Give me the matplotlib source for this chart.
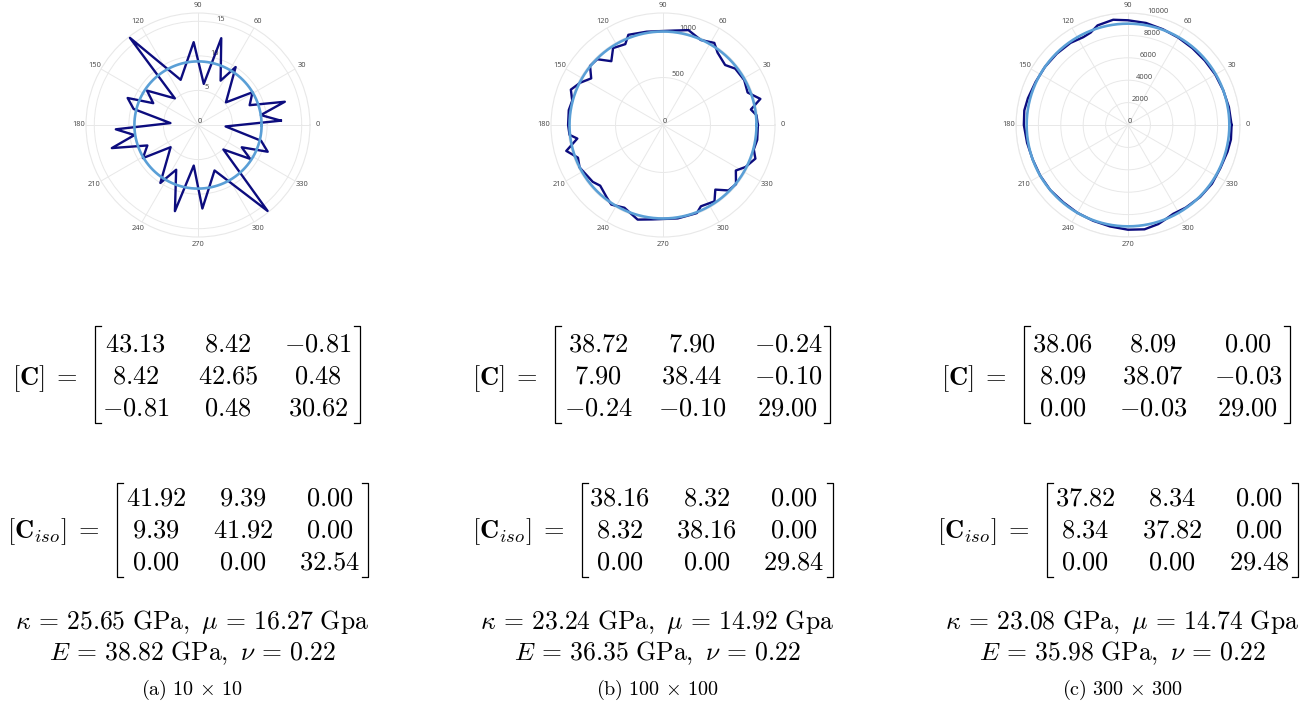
import numpy as np
import matplotlib.pyplot as plt
from matplotlib.lines import Line2D

plt.rcParams['mathtext.fontset'] = 'cm'

W, H = 1313, 704

# ---- polar data (angle in degrees, radius) ----
theta_a = [3, 9, 15, 21, 31, 39, 57, 63, 75, 82, 93, 111, 128, 131, 146, 154, 159, 166, 176,
           183, 189, 195, 202, 211, 219, 237, 244, 255, 264, 273, 290, 309, 316, 327, 333, 339, 346, 357]
r_a = [12.0, 9.2, 13.0, 8.0, 9.2, 5.2, 10.0, 7.2, 13.0, 6.0, 12.0, 7.0, 16.0, 5.1, 8.9, 7.2, 10.9, 9.6, 4.0,
       11.9, 9.3, 12.9, 7.9, 9.3, 5.1, 10.0, 7.2, 12.9, 5.9, 12.1, 7.0, 16.0, 5.1, 9.0, 7.1, 10.8, 9.4, 4.0]
iso_a = 9.2

theta_b = [0, 6, 10, 15, 21, 29, 38, 44, 53, 58, 66, 75, 84, 100, 111, 115, 123, 129, 135, 141, 147, 153,
           159, 165, 171, 180, 186, 189, 195, 201, 207, 219, 224, 232, 237, 245, 255, 264, 279, 291, 295,
           304, 309, 315, 321, 328, 333, 340, 345, 351]
r_b = [1000, 990, 940, 1062, 955, 978, 965, 910, 955, 1020, 980, 1035, 1000, 998, 1018, 940, 966, 865, 980,
       989, 902, 980, 1040, 990, 1005, 1000, 990, 914, 1055, 960, 986, 952, 920, 965, 1000, 962, 1032, 1000,
       996, 994, 945, 970, 876, 975, 990, 905, 975, 1036, 990, 1005]
iso_b = 985

theta_c = [0, 10, 20, 30, 40, 50, 60, 70, 80, 90, 98, 107, 112, 117, 125, 135, 145, 155, 165, 172, 180,
           190, 200, 210, 220, 230, 240, 250, 260, 270, 279, 287, 292, 297, 305, 315, 325, 335, 345, 352]
r_c = [9250, 9150, 9050, 9000, 8950, 8950, 9000, 9100, 9250, 9350, 9490, 9300, 8900, 8800, 8950, 9000,
       9050, 9100, 9250, 9350, 9300, 9150, 9050, 9050, 9050, 9000, 9050, 9100, 9200, 9350, 9430, 9250,
       9050, 8900, 9000, 9100, 9150, 9100, 9200, 9280]
iso_c = 9050

rticks = [[0, 5, 10, 15], [0, 500, 1000], [0, 2000, 4000, 6000, 8000, 10000]]
rmax = [16.2, 1180, 10000]
theta_ticks = list(range(0, 360, 30))

# ---- text data ----
C_mats = [
    [[43.13, 8.42, -0.81], [8.42, 42.65, 0.48], [-0.81, 0.48, 30.62]],
    [[38.72, 7.90, -0.24], [7.90, 38.44, -0.10], [-0.24, -0.10, 29.00]],
    [[38.06, 8.09, 0.00], [8.09, 38.07, -0.03], [0.00, -0.03, 29.00]],
]
Ciso_mats = [
    [[41.92, 9.39, 0.00], [9.39, 41.92, 0.00], [0.00, 0.00, 32.54]],
    [[38.16, 8.32, 0.00], [8.32, 38.16, 0.00], [0.00, 0.00, 29.84]],
    [[37.82, 8.34, 0.00], [8.34, 37.82, 0.00], [0.00, 0.00, 29.48]],
]
kappa = [25.65, 23.24, 23.08]
mu = [16.27, 14.92, 14.74]
E = [38.82, 36.35, 35.98]
nu = [0.22, 0.22, 0.22]
captions = ['(a)', '(b)', '(c)']
sizes = [r'10\,\times\,10', r'100\,\times\,100', r'300\,\times\,300']

# layout (pixels)
pol_cx = [198, 663, 1128]
pol_cy, pol_R = 125, 112
txt_cx = [192, 657, 1122]
C_pos = [(78, 95, 360, [136, 228, 318]), (538, 555, 830, [598, 692, 788]), (1007, 1024, 1290, [1063, 1153, 1248])]
Ciso_pos = [(100, 117, 368, [156, 243, 330]), (565, 582, 833, [620, 707, 794]), (1030, 1047, 1298, [1085, 1172, 1259])]

dark = '#0c0c7e'
light = '#5a9fd6'
grid_c = '#e8e8e8'
FS = 19
FS2 = 18.5


def fx(x):
    return x / W


def fy(y):
    return 1 - y / H


fig = plt.figure(figsize=(W / 100, H / 100), dpi=100)

data = [(theta_a, r_a, iso_a), (theta_b, r_b, iso_b), (theta_c, r_c, iso_c)]
for i, (th, rr, iso) in enumerate(data):
    ax = fig.add_axes([fx(pol_cx[i] - pol_R), fy(pol_cy + pol_R), 2 * pol_R / W, 2 * pol_R / H],
                      projection='polar')
    t = np.radians(th + [th[0]])
    ax.plot(t, rr + [rr[0]], color=dark, lw=1.7, zorder=3)
    circ = np.linspace(0, 2 * np.pi, 361)
    ax.plot(circ, np.full_like(circ, iso), color=light, lw=1.9, zorder=4)
    ax.set_ylim(0, rmax[i])
    ax.set_rticks(rticks[i])
    ax.set_yticklabels([str(v) for v in rticks[i]])
    ax.set_rlabel_position(80)
    ax.set_thetagrids(theta_ticks, [str(v) for v in theta_ticks])
    ax.set_axisbelow(True)
    ax.grid(color=grid_c, lw=0.7)
    ax.spines['polar'].set_color(grid_c)
    ax.spines['polar'].set_linewidth(0.8)
    ax.tick_params(axis='x', pad=-1.5, length=0, labelsize=5.4, colors='#444444')
    ax.tick_params(axis='y', labelsize=5.4, colors='#444444')
    for lab in ax.get_xticklabels() + ax.get_yticklabels():
        lab.set_family('Open Sans')


def bracket(xl, xr, ytop, ybot, serif=6):
    kw = dict(color='black', lw=0.9, transform=fig.transFigure)
    fig.add_artist(Line2D([fx(xl + serif), fx(xl), fx(xl), fx(xl + serif)],
                          [fy(ytop), fy(ytop), fy(ybot), fy(ybot)], **kw))
    fig.add_artist(Line2D([fx(xr - serif), fx(xr), fx(xr), fx(xr - serif)],
                          [fy(ytop), fy(ytop), fy(ybot), fy(ybot)], **kw))


def matrix(label, vals, pos, rows, ytop, ybot):
    lab_end, xl, xr, cols = pos
    fig.text(fx(lab_end), fy(rows[1]), label, ha='right', va='center_baseline', fontsize=FS)
    bracket(xl, xr, ytop, ybot)
    for ri, row in enumerate(vals):
        for ci, v in enumerate(row):
            fig.text(fx(cols[ci]), fy(rows[ri]), r'$%.2f$' % v, ha='center', va='center_baseline', fontsize=FS)


for i in range(3):
    matrix(r'$[\mathbf{C}]\;=$', C_mats[i], C_pos[i], [342, 374, 406], 326, 423)
    matrix(r'$[\mathbf{C}_{iso}]\;=$', Ciso_mats[i], Ciso_pos[i], [495, 527, 559], 483, 577)
    fig.text(fx(txt_cx[i]), fy(618),
             r'$\kappa\,=\,%.2f\ \mathrm{GPa},\ \mu\,=\,%.2f\ \mathrm{Gpa}$' % (kappa[i], mu[i]),
             ha='center', va='center_baseline', fontsize=FS2)
    fig.text(fx(txt_cx[i]), fy(650),
             r'$E\,=\,%.2f\ \mathrm{GPa},\ \nu\,=\,%.2f$' % (E[i], nu[i]),
             ha='center', va='center_baseline', fontsize=FS2)
    fig.text(fx(txt_cx[i]), fy(686), r'$\mathrm{%s}\ %s$' % (captions[i], sizes[i]),
             ha='center', va='center_baseline', fontsize=14.5)

fig.savefig('out.png', dpi=100)
